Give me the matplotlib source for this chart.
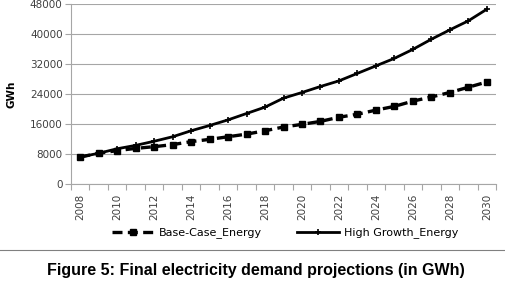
import matplotlib
matplotlib.use("Agg")
import matplotlib.pyplot as plt
import numpy as np

years = list(range(2008, 2031))
base_case = [7200, 8200, 8900, 9500, 9950, 10500, 11300, 11900, 12600, 13300,
             14200, 15200, 15900, 16700, 17800, 18600, 19700, 20700, 22100,
             23200, 24400, 25800, 27200]
high_growth = [7200, 8200, 9400, 10300, 11400, 12600, 14200, 15600, 17100, 18800,
               20500, 22900, 24400, 26000, 27500, 29500, 31500, 33500, 35900,
               38600, 41100, 43500, 46600]
y_ticks = [0, 8000, 16000, 24000, 32000, 40000, 48000]

plt.rcParams['font.family'] = ['DejaVu Sans']
W, H = 506, 283
fig = plt.figure(figsize=(W / 100, H / 100), dpi=100)
ax = fig.add_axes([71 / W, 1 - 184 / H, (496 - 71) / W, 180 / H])

x = np.arange(len(years))
ax.plot(x, base_case, color='black', lw=2.4, ls=(0, (3, 1.6)), marker='s',
        markersize=5, label='Base-Case_Energy')
ax.plot(x, high_growth, color='black', lw=2.0, marker='+', markersize=4,
        markeredgewidth=1.2, label='High Growth_Energy')

ax.set_xlim(-0.5, len(years) - 0.5)
ax.set_ylim(0, 48000)
ax.set_yticks(y_ticks)
ax.set_yticklabels([str(v) for v in y_ticks], fontsize=7.5, color='#404040')
ax.yaxis.grid(True, color='#a6a6a6', lw=0.8)
ax.set_axisbelow(True)

ax.set_xticks(np.arange(-0.5, len(years)), minor=False)
ax.set_xticklabels([''] * len(np.arange(-0.5, len(years))))
ax.tick_params(axis='x', which='major', length=4, color='#a6a6a6', direction='out')
ax.set_xticks(x[::2], minor=True)
ax.set_xticklabels([str(y) for y in years[::2]], minor=True, rotation=90,
                   fontsize=7.5, color='#404040')
ax.tick_params(axis='x', which='minor', length=0, pad=7)
ax.tick_params(axis='y', length=4, color='#a6a6a6', pad=2)

for s in ['top', 'right']:
    ax.spines[s].set_visible(False)
for s in ['left', 'bottom']:
    ax.spines[s].set_color('#a6a6a6')
    ax.spines[s].set_linewidth(0.8)

ax.set_ylabel('GWh', fontsize=7.5, fontweight='bold', labelpad=10)

fig.legend(loc='center', bbox_to_anchor=(285 / W, 1 - 233 / H), ncol=2,
           frameon=False, fontsize=8, handlelength=3.8, columnspacing=3.2,
           handletextpad=0.4)

fig.add_artist(plt.Line2D([0, 1], [1 - 250 / H, 1 - 250 / H], color='#808080',
                          lw=0.8, transform=fig.transFigure))
fig.text(0.505, 1 - 270 / H, 'Figure 5: Final electricity demand projections (in GWh)',
         ha='center', va='center', fontsize=11.5, fontweight='bold',
         family=['Liberation Sans', 'DejaVu Sans'])

fig.savefig('out.png', dpi=100)
